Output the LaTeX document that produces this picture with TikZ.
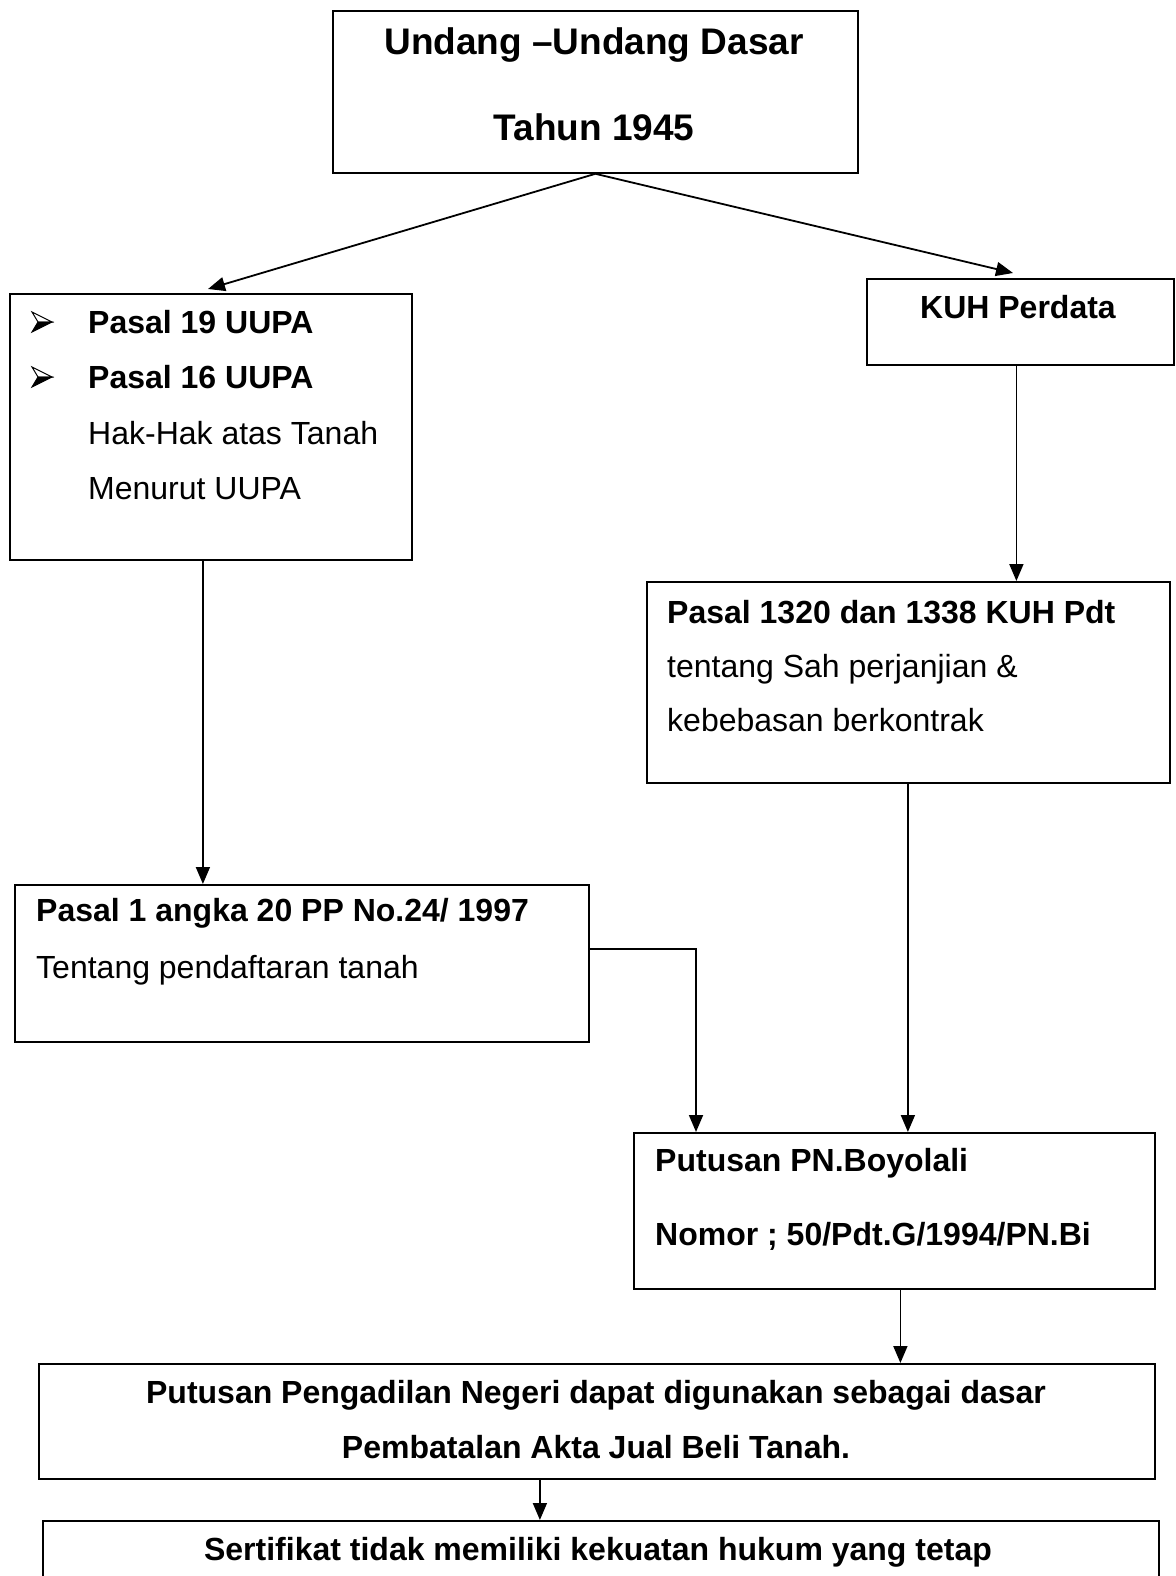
\documentclass[tikz,border=0pt]{standalone}
\usepackage{fontspec}
\setmainfont{Liberation Sans}
\usetikzlibrary{arrows.meta}
\tikzset{
  box/.style={draw, line width=1.8pt, rectangle, inner sep=0pt, anchor=north west},
  arr/.style={line width=1.8pt, -{Triangle[length=17pt,width=14pt]}},
  txt/.style={anchor=base west, inner sep=0pt, font=\fontsize{32}{38}\selectfont},
  btxt/.style={txt, font=\fontsize{32}{38}\selectfont\bfseries},
  ctxt/.style={anchor=base, inner sep=0pt, font=\fontsize{32}{38}\selectfont\bfseries},
  bigtxt/.style={anchor=base, inner sep=0pt, font=\fontsize{37}{44}\selectfont\bfseries},
  bulpt/.style={inner sep=0pt, minimum size=0pt}
}
\newcommand{\arrbullet}[1]{%
  \draw[line width=1pt, line join=miter] ([shift={(-10,-10)}]#1) -- ([shift={(10,0)}]#1) -- ([shift={(-4,0)}]#1) -- cycle;
  \fill ([shift={(-4,0)}]#1) -- ([shift={(10,0)}]#1) -- ([shift={(-10,10)}]#1) -- cycle;
  \draw[line width=1pt, line join=miter] ([shift={(-4,0)}]#1) -- ([shift={(10,0)}]#1) -- ([shift={(-10,10)}]#1) -- cycle;
}
\begin{document}
\begin{tikzpicture}[x=1pt,y=-1pt]
\useasboundingbox (0,0) rectangle (1175,1576);
\fill[white] (0,0) rectangle (1175,1576);

% top box
\node[box, minimum width=525pt, minimum height=162pt] (ud) at (332,10) {};
\node[bigtxt] (ud1) at (594,55) {Undang –Undang Dasar};
\node[bigtxt] (ud2) at (594,141) {Tahun 1945};

% left box
\node[box, minimum width=402pt, minimum height=266pt] (lb) at (9,293) {};
\coordinate (b1) at (42,322);
\coordinate (b2) at (42,377);
\arrbullet{b1}
\arrbullet{b2}
\node[btxt] (l1) at (88,333) {Pasal 19 UUPA};
\node[btxt] (l2) at (88,388) {Pasal 16 UUPA};
\node[txt] (l3) at (88,444) {Hak-Hak atas Tanah};
\node[txt] (l4) at (88,499) {Menurut UUPA};

% KUH box
\node[box, minimum width=307pt, minimum height=86pt] (kuh) at (866,278) {};
\node[ctxt] (kuht) at (1018,318) {KUH Perdata};

% Pasal 1320 box
\node[box, minimum width=523pt, minimum height=201pt] (p1320) at (646,581) {};
\node[btxt] (p1) at (667,623) {Pasal 1320 dan 1338 KUH Pdt};
\node[txt] (p2) at (667,677) {tentang Sah perjanjian \&};
\node[txt] (p3) at (667,731) {kebebasan berkontrak};

% Pasal 1 box
\node[box, minimum width=574pt, minimum height=157pt] (pp) at (14,884) {};
\node[btxt] (pp1) at (36,921) {Pasal 1 angka 20 PP No.24/ 1997};
\node[txt] (pp2) at (36,978) {Tentang pendaftaran tanah};

% Putusan PN box
\node[box, minimum width=521pt, minimum height=156pt] (pn) at (633,1132) {};
\node[btxt] (pn1) at (655,1171) {Putusan PN.Boyolali};
\node[btxt] (pn2) at (655,1245) {Nomor ; 50/Pdt.G/1994/PN.Bi};

% Pengadilan box
\node[box, minimum width=1116pt, minimum height=115pt] (png) at (38,1363) {};
\node[ctxt] (png1) at (596,1403) {Putusan Pengadilan Negeri dapat digunakan sebagai dasar};
\node[ctxt] (png2) at (596,1458) {Pembatalan Akta Jual Beli Tanah.};

% Bottom box
\node[box, minimum width=1116pt, minimum height=100pt] (sert) at (42,1520) {};
\node[ctxt] (sert1) at (598,1560) {Sertifikat tidak memiliki kekuatan hukum yang tetap};

% connectors
\coordinate (lbin) at (208,289);
\coordinate (kuhin) at (1013,273);
\draw[arr] (ud.south) -- (lbin);
\draw[arr] (ud.south) -- (kuhin);
\draw[arr] ([xshift=-4pt]kuh.south) -- ([xshift=-4pt]kuh.south |- p1320.north);
\draw[arr] ([xshift=-8pt]lb.south) -- ([xshift=-8pt]lb.south |- pp.north);
\draw[arr] ([xshift=-0.5pt]p1320.south) -- ([xshift=-0.5pt]p1320.south |- pn.north);
\coordinate (elb) at (696,949);
\draw[arr] (pp.east |- elb) -- (elb) -- (elb |- pn.north);
\draw[arr] ([xshift=6pt]pn.south) -- ([xshift=6pt]pn.south |- png.north);
\draw[arr] ([xshift=-57pt]png.south) -- ([xshift=-57pt]png.south |- sert.north);
\end{tikzpicture}
\end{document}
